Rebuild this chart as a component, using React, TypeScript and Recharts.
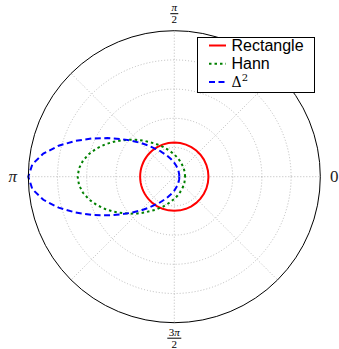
import {
  Legend,
  PolarAngleAxis,
  PolarGrid,
  PolarRadiusAxis,
  Radar,
  RadarChart,
} from "recharts";

// sample angles in degrees, finer where the curves bend fast on the left
const angles = [
  0, 10, 20, 30, 40, 50, 60, 70, 80, 90, 100, 110, 120, 130, 135, 140, 145, 150,
  155, 160, 165, 170, 175, 180, 185, 190, 195, 200, 205, 210, 215, 220, 225, 230,
  240, 250, 260, 270, 280, 290, 300, 310, 320, 330, 340, 350,
];

const rectangle = [
  0.234, 0.234, 0.234, 0.234, 0.234, 0.234, 0.234, 0.234, 0.234, 0.234, 0.234,
  0.234, 0.234, 0.234, 0.234, 0.234, 0.234, 0.234, 0.234, 0.234, 0.234, 0.234,
  0.234, 0.234, 0.234, 0.234, 0.234, 0.234, 0.234, 0.234, 0.234, 0.234, 0.234,
  0.234, 0.234, 0.234, 0.234, 0.234, 0.234, 0.234, 0.234, 0.234, 0.234, 0.234,
  0.234, 0.234,
];

const hann = [
  0.074, 0.074, 0.076, 0.08, 0.085, 0.092, 0.101, 0.114, 0.131, 0.152, 0.18,
  0.216, 0.262, 0.321, 0.356, 0.394, 0.435, 0.479, 0.523, 0.566, 0.604, 0.635,
  0.655, 0.662, 0.655, 0.635, 0.604, 0.566, 0.523, 0.479, 0.435, 0.394, 0.356,
  0.321, 0.262, 0.216, 0.18, 0.152, 0.131, 0.114, 0.101, 0.092, 0.085, 0.08,
  0.076, 0.074,
];

const delta2 = [
  0.034, 0.034, 0.036, 0.038, 0.041, 0.046, 0.053, 0.062, 0.076, 0.095, 0.121,
  0.157, 0.208, 0.28, 0.328, 0.384, 0.451, 0.529, 0.62, 0.719, 0.82, 0.911,
  0.976, 1.0, 0.976, 0.911, 0.82, 0.719, 0.62, 0.529, 0.451, 0.384, 0.328, 0.28,
  0.208, 0.157, 0.121, 0.095, 0.076, 0.062, 0.053, 0.046, 0.041, 0.038, 0.036,
  0.034,
];

const tickAngles = [0, 90, 180, 270];
const tickNumerators = ["0", "π", "π", "3π"];
const tickDenominators = ["", "2", "", "2"];

const gridAngles = [0, 45, 90, 135, 180, 225, 270, 315];
const gridRings = [0.2, 0.4, 0.6, 0.8];

const legendLabels = ["Rectangle", "Hann", "Δ"];

const OUTER = 146;

const data = angles.map((angle, i) => ({
  angle,
  rectangle: rectangle[i],
  hann: hann[i],
  delta2: delta2[i],
}));

function Numerator({ text, x, y }: { text: string; x: number; y: number }) {
  // italic pi, upright digits
  const parts = text.split("π");
  return (
    <text x={x} y={y} textAnchor="middle" fontFamily="Liberation Serif" fontSize={11} fill="#000">
      {parts[0] && <tspan>{parts[0]}</tspan>}
      {text.includes("π") && <tspan fontStyle="italic">π</tspan>}
    </text>
  );
}

function AngleTick(props: any) {
  const { x, y, payload } = props;
  const i = tickAngles.indexOf(payload.value);
  const num = tickNumerators[i];
  const den = tickDenominators[i];
  if (!den) {
    const isPi = num === "π";
    return (
      <text
        x={isPi ? x - 1.5 : x}
        y={y + 5.5}
        textAnchor="middle"
        fontFamily="Liberation Serif"
        fontSize={17}
        fontStyle={isPi ? "italic" : "normal"}
        fill="#222"
      >
        {num}
      </text>
    );
  }
  // push the stacked fractions a little further out
  const fy = payload.value === 90 ? y - 3 : y + 1.5;
  const w = num.length > 1 ? 14 : 8;
  return (
    <g>
      <Numerator text={num} x={x} y={fy - 2.5} />
      <line x1={x - w / 2} x2={x + w / 2} y1={fy} y2={fy} stroke="#000" strokeWidth={1} />
      <text x={x} y={fy + 9.5} textAnchor="middle" fontFamily="Liberation Serif" fontSize={11} fill="#000">
        {den}
      </text>
    </g>
  );
}

const legendColors = ["#ff0000", "#008000", "#0000ff"];
const legendDashes = [undefined, "2.5 3", "6 3.5"];

function LegendBox() {
  return (
    <svg width={119} height={57} style={{ display: "block" }}>
      <rect x={0.5} y={0.5} width={117} height={55} fill="#fff" stroke="#000" strokeWidth={1} />
      {legendLabels.map((label, i) => {
        const cy = 8.5 + i * 18.3;
        return (
          <g key={label}>
            <line
              x1={12}
              x2={29}
              y1={cy}
              y2={cy}
              stroke={legendColors[i]}
              strokeWidth={2}
              strokeDasharray={legendDashes[i]}
            />
            {i < 2 ? (
              <text x={34.5} y={cy + 5.5} fontFamily="Liberation Sans" fontSize={16} fill="#000">
                {label}
              </text>
            ) : (
              <text x={34.5} y={cy + 5} fontFamily="DejaVu Serif" fontSize={14} fill="#000">
                {label}
                <tspan fontSize={10} dy={-6}>2</tspan>
              </text>
            )}
          </g>
        );
      })}
    </svg>
  );
}

export default function App() {
  return (
    <div style={{ position: "absolute", left: 0, top: 0, width: 339, height: 349, background: "#fff" }}>
      <RadarChart
        width={339}
        height={349}
        data={data}
        cx={174.3}
        cy={176.7}
        outerRadius={OUTER}
        startAngle={0}
        endAngle={360}
        margin={{ top: 0, right: 0, bottom: 0, left: 0 }}
      >
        <PolarGrid
          gridType="circle"
          polarAngles={gridAngles}
          polarRadius={gridRings.map((f) => f * OUTER)}
          stroke="#aaaaaa"
          strokeWidth={0.8}
          strokeDasharray="1 2"
        />
        <PolarAngleAxis
          type="number"
          dataKey="angle"
          domain={[0, 360]}
          ticks={tickAngles}
          tick={<AngleTick />}
          tickLine={false}
          tickSize={14}
          axisLineType="circle"
          axisLine={{ stroke: "#000", strokeWidth: 1 }}
        />
        <PolarRadiusAxis domain={[0, 1]} type="number" tick={false} axisLine={false} />
        <Radar
          dataKey="rectangle"
          stroke="#ff0000"
          strokeWidth={2}
          fill="none"
          dot={false}
          isAnimationActive={false}
        />
        <Radar
          dataKey="hann"
          stroke="#008000"
          strokeWidth={2}
          strokeDasharray="2.5 3"
          fill="none"
          dot={false}
          isAnimationActive={false}
        />
        <Radar
          dataKey="delta2"
          stroke="#0000ff"
          strokeWidth={2}
          strokeDasharray="6 3.5"
          fill="none"
          dot={false}
          isAnimationActive={false}
        />
        <Legend
          content={<LegendBox />}
          wrapperStyle={{ position: "absolute", left: 197, top: 36.5, width: 119, height: 57 }}
        />
      </RadarChart>
    </div>
  );
}
